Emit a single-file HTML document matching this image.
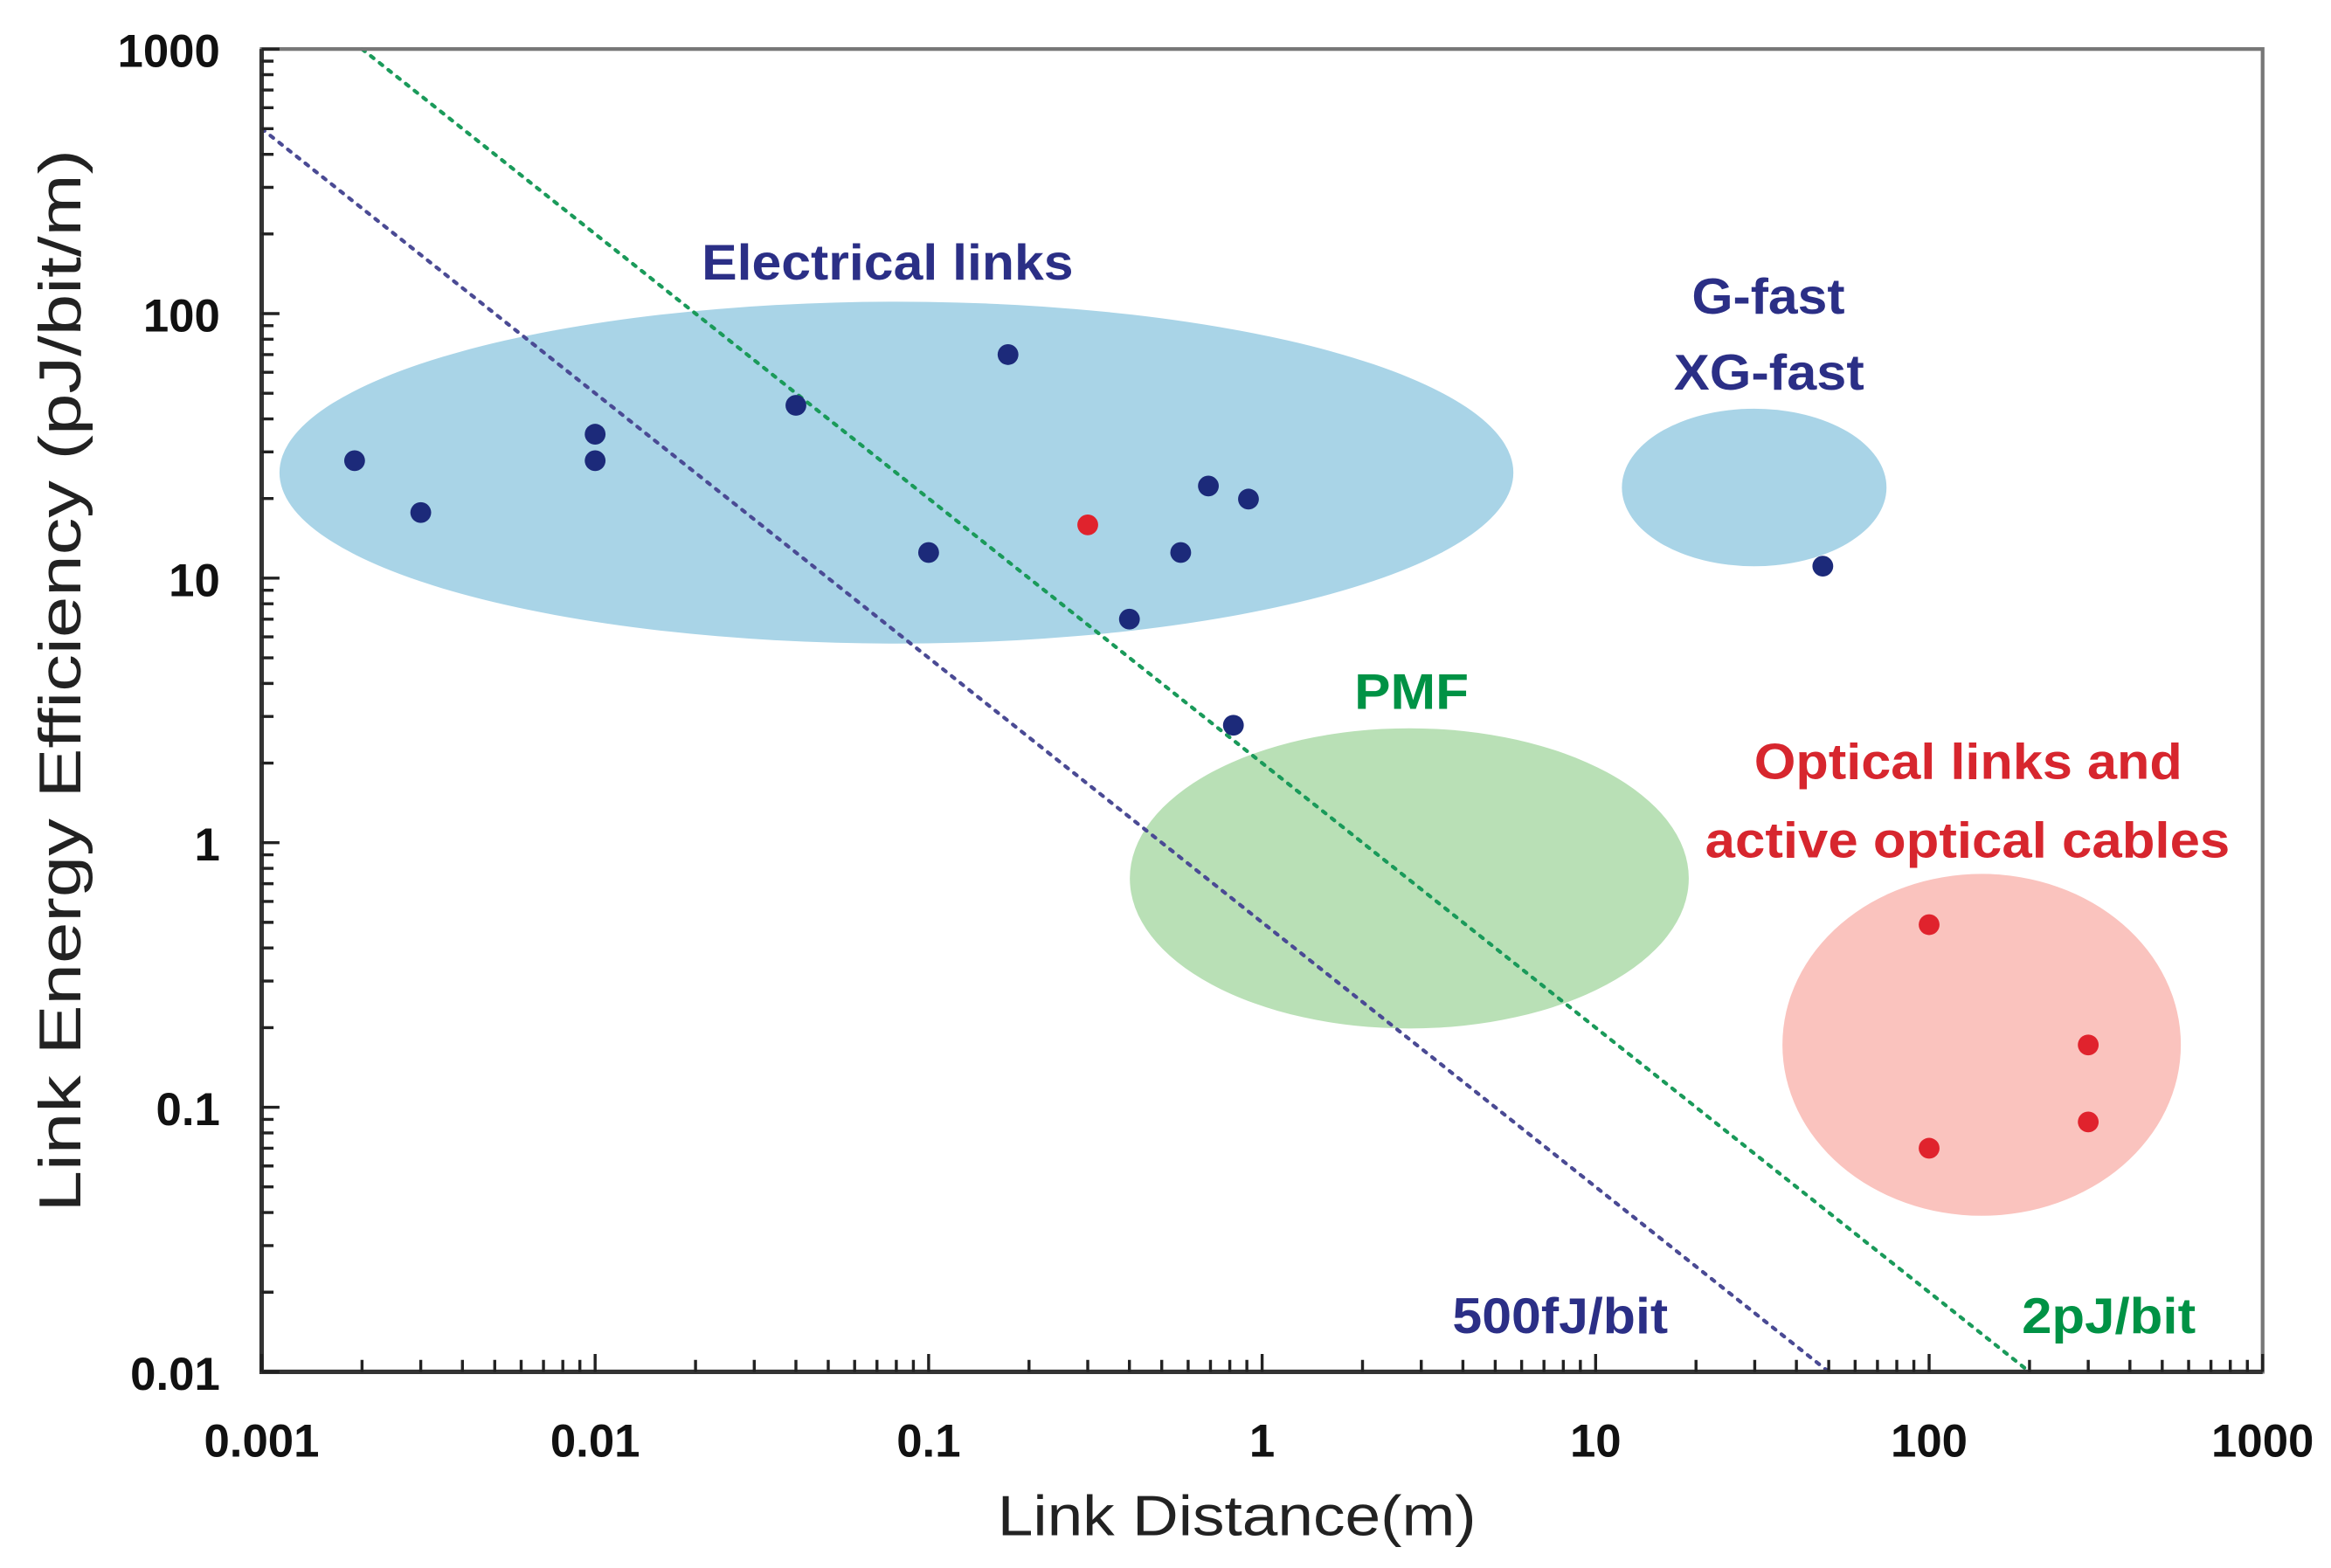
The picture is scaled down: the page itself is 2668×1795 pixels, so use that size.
<!DOCTYPE html>
<html><head><meta charset="utf-8"><style>
html,body{margin:0;padding:0;background:#fff;}
svg{display:block;}
text{font-family:"Liberation Sans",Arial,sans-serif;}
</style></head><body>
<svg id="chart" width="2668" height="1795" viewBox="0 0 1568 1055" preserveAspectRatio="none" xmlns="http://www.w3.org/2000/svg">
<g id="regions"></g>
<g id="lines"></g>
<g id="points"></g>
<g id="axes"></g>
<g id="labels"></g>
</svg>
<script>
const xTicks = [0.001, 0.01, 0.1, 1, 10, 100, 1000];
const xTickLabels = ["0.001", "0.01", "0.1", "1", "10", "100", "1000"];
const yTicks = [1000, 100, 10, 1, 0.1, 0.01];
const yTickLabels = ["1000", "100", "10", "1", "0.1", "0.01"];
const elecX = [0.0019, 0.003, 0.01, 0.01, 0.04, 0.173, 0.1, 0.4, 0.69, 0.91, 0.57, 0.82, 48];
const elecY = [27.8, 17.7, 35, 27.8, 45, 70, 12.5, 7, 22.3, 19.9, 12.5, 2.78, 11.1];
const optX = [0.3, 100, 300, 300, 100];
const optY = [15.9, 0.49, 0.172, 0.088, 0.07];
const lineEnergies = [0.5, 2]; // pJ/bit

const NS = "http://www.w3.org/2000/svg";
const L = 176, R = 1522, T = 33, B = 923;
function sx(v){ return L + (Math.log10(v) + 3) / 6 * (R - L); }
function sy(v){ return T + (3 - Math.log10(v)) / 5 * (B - T); }
function mk(parent, tag, attrs, text){
  const e = document.createElementNS(NS, tag);
  for (const k in attrs) e.setAttribute(k, attrs[k]);
  if (text !== undefined) e.textContent = text;
  document.getElementById(parent).appendChild(e);
  return e;
}
// regions
let e;
e = mk("regions","ellipse",{cx:603,cy:318,rx:415,ry:115,fill:"#a9d4e7"});


e = mk("regions","ellipse",{cx:1180,cy:328,rx:89,ry:53,fill:"#a9d4e7"});


e = mk("regions","ellipse",{cx:948,cy:591,rx:188,ry:101,fill:"#b9e0b6"});


e = mk("regions","ellipse",{cx:1333,cy:703,rx:134,ry:115,fill:"#fac3be"});


// energy lines y = E / x
const lineColors = ["#4a4a94", "#1a9a5a"];
lineEnergies.forEach((E, i) => {
  const x0 = Math.max(0.001, E / 1000), x1 = Math.min(1000, E / 0.01);
  const l = mk("lines","line",{x1:sx(x0),y1:sy(E/x0),x2:sx(x1),y2:sy(E/x1),stroke:lineColors[i],"stroke-width":2.5,"stroke-dasharray":"2.5 5","stroke-linecap":"round"});
  
  
});
// points
elecX.forEach((x, i) => {
  const c = mk("points","circle",{cx:sx(x),cy:sy(elecY[i]),r:7,fill:"#1c2a7a"});
  
  
});
optX.forEach((x, i) => {
  const c = mk("points","circle",{cx:sx(x),cy:sy(optY[i]),r:7,fill:"#e0232d"});
  
  
});
// axes frame
e = mk("axes","rect",{x:L,y:T,width:R-L,height:B-T,fill:"none",stroke:"#777","stroke-width":2.5});


e = mk("axes","path",{d:`M${L},${T} V${B} H${R}`,fill:"none",stroke:"#333","stroke-width":3});


// minor ticks
let d = "";
for (let dec = -3; dec < 3; dec++) for (let m = 1; m <= 10; m++) {
  const px = sx(m * Math.pow(10, dec)); d += `M${px},${B} v${m===1||m===10?-12:-8} `;
}
for (let dec = -2; dec < 3; dec++) for (let m = 1; m <= 10; m++) {
  const py = sy(m * Math.pow(10, dec)); d += `M${L},${py} h${m===1||m===10?12:8} `;
}
e = mk("axes","path",{d:d,stroke:"#222","stroke-width":2});


// tick labels
xTicks.forEach((v, i) => {
  const t = mk("axes","text",{x:sx(v),y:980,"text-anchor":"middle","font-size":31,"font-weight":"bold",fill:"#111"}, xTickLabels[i]);
  
  
});
yTicks.forEach((v, i) => {
  const t = mk("axes","text",{x:148,y:sy(v)+12,"text-anchor":"end","font-size":31,"font-weight":"bold",fill:"#111"}, yTickLabels[i]);
  
  
});
// axis titles
e = mk("labels","text",{x:832,y:1033,"text-anchor":"middle","font-size":38,fill:"#222",textLength:322,lengthAdjust:"spacingAndGlyphs"},"Link Distance(m)");


e = mk("labels","text",{x:0,y:0,transform:"translate(54,458) rotate(-90)","text-anchor":"middle","font-size":40,fill:"#222",textLength:715,lengthAdjust:"spacingAndGlyphs"},"Link Energy Efficiency (pJ/bit/m)");


// annotations
const ann = [
  ["Electrical links",472,188,250,"#2b2f86","label-electrical-links"],
  ["G-fast",1138,211,103,"#2b2f86","label-g-fast"],
  ["XG-fast",1126,262,128,"#2b2f86","label-xg-fast"],
  ["PMF",911,477,77,"#009245","label-pmf"],
  ["Optical links and",1180,524,288,"#d7262e","label-optical-links"],
  ["active optical cables",1147,577,353,"#d7262e","label-active-optical-cables"],
  ["500fJ/bit",977,897,145,"#2b2f86","label-500fj-per-bit"],
  ["2pJ/bit",1360,897,117,"#009245","label-2pj-per-bit"]
];
ann.forEach(a => {
  const t = mk("labels","text",{x:a[1],y:a[2],"font-size":34,"font-weight":"bold",fill:a[4],textLength:a[3],lengthAdjust:"spacingAndGlyphs"},a[0]);
  
  
});
</script>
</body></html>
